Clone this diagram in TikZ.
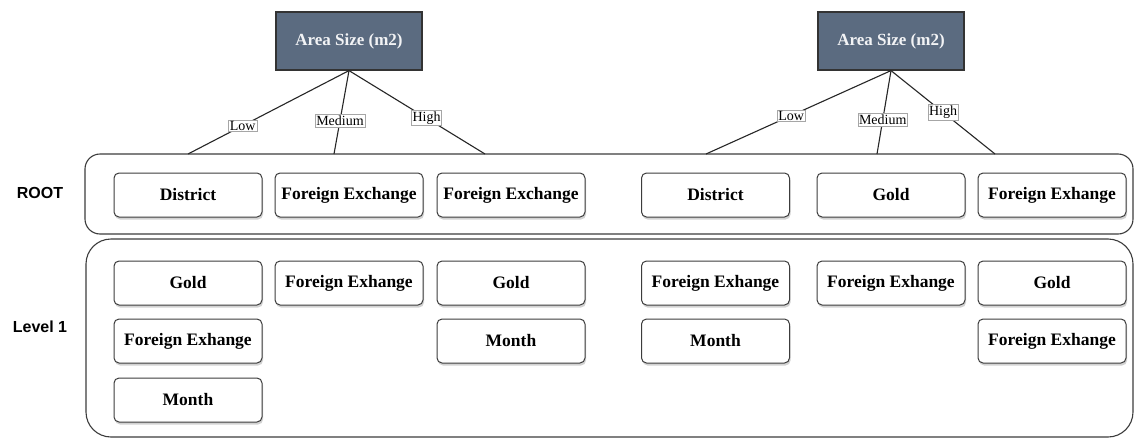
\documentclass[tikz,border=0pt]{standalone}
\usepackage{fontspec}
\setmainfont{Liberation Serif}
\newfontfamily\sansf{Liberation Sans}
\usetikzlibrary{shadows}
\definecolor{slate}{HTML}{5B6B80}
\definecolor{edgegrey}{HTML}{3C3C3C}
\definecolor{paper}{HTML}{FFFFFF}
\tikzset{
  band/.style={draw=edgegrey, line width=1.1pt, fill=none},
  item/.style={draw=edgegrey, line width=1pt, rounded corners=5pt, fill=white,
    minimum width=148pt, minimum height=44pt, inner sep=0pt,
    font=\fontsize{17.5}{20}\selectfont\bfseries,
    drop shadow={shadow xshift=1pt, shadow yshift=-2.5pt, opacity=0.35, fill=gray}},
  topbox/.style={draw=black!80, line width=1.2pt, fill=slate, text=white!92!slate,
    minimum width=146pt, minimum height=58pt, inner sep=0pt,
    font=\fontsize{17}{20}\selectfont\bfseries},
  lbl/.style={draw=gray!70, line width=0.5pt, fill=white, inner sep=1.2pt,
    font=\fontsize{14}{15}\selectfont},
  side/.style={font=\sansf\bfseries\fontsize{16}{18}\selectfont},
  link/.style={draw=black!85, line width=1.1pt}
}
\begin{document}
\begin{tikzpicture}[x=1pt,y=-1pt]
\useasboundingbox[fill=paper] (0,0) rectangle (1134,439);

% containers
\node[band, rounded corners=15pt, minimum width=1048pt, minimum height=80pt, inner sep=0pt] (rootband) at (609,194) {};
\node[band, rounded corners=25pt, minimum width=1047pt, minimum height=198pt, inner sep=0pt] (levelband) at (609.5,338) {};

% side labels
\node[side] (rootlbl) at (40,193) {ROOT};
\node[side] (levellbl) at (40,327) {Level 1};

% top boxes
\node[topbox] (areaL) at (349,41) {Area Size (m2)};
\node[topbox] (areaR) at (891,41) {Area Size (m2)};

% endpoints on ROOT band
\coordinate (eLlow) at (188,154);
\coordinate (eLmed) at (334,154);
\coordinate (eLhigh) at (485,154);
\coordinate (eRlow) at (706,154);
\coordinate (eRmed) at (877,154);
\coordinate (eRhigh) at (995,154);

\draw[link] (areaL.south) -- node[lbl, pos=0.66] (tLlow) {Low} (eLlow);
\draw[link] (areaL.south) -- node[lbl, pos=0.60] (tLmed) {Medium} (eLmed);
\draw[link] (areaL.south) -- node[lbl, pos=0.57] (tLhigh) {High} (eLhigh);
\draw[link] (areaR.south) -- node[lbl, pos=0.54] (tRlow) {Low} (eRlow);
\draw[link] (areaR.south) -- node[lbl, pos=0.59] (tRmed) {Medium} (eRmed);
\draw[link] (areaR.south) -- node[lbl, pos=0.50] (tRhigh) {High} (eRhigh);

% ROOT row
\node[item] (r1) at (188,195) {District};
\node[item] (r2) at (349,195) {Foreign Exchange};
\node[item] (r3) at (511,195) {Foreign Exchange};
\node[item] (r4) at (715.5,195) {District};
\node[item] (r5) at (891,195) {Gold};
\node[item] (r6) at (1052,195) {Foreign Exhange};

% Level 1 rows
\node[item] (a1) at (188,283) {Gold};
\node[item] (a2) at (188,341) {Foreign Exhange};
\node[item] (a3) at (188,400) {Month};
\node[item] (b1) at (349,283) {Foreign Exhange};
\node[item] (c1) at (511,283) {Gold};
\node[item] (c2) at (511,341) {Month};
\node[item] (d1) at (715.5,283) {Foreign Exhange};
\node[item] (d2) at (715.5,341) {Month};
\node[item] (e1) at (891,283) {Foreign Exhange};
\node[item] (f1) at (1052,283) {Gold};
\node[item] (f2) at (1052,341) {Foreign Exhange};
\end{tikzpicture}
\end{document}
